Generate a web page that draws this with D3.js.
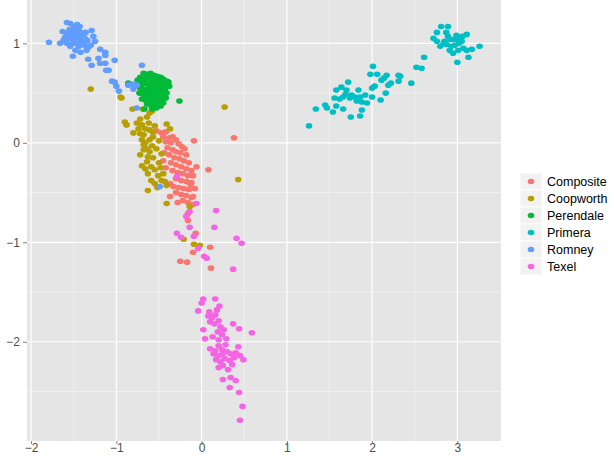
<!DOCTYPE html>
<html>
<head>
<meta charset="utf-8">
<script src="https://cdn.jsdelivr.net/npm/d3@7"></script>
<style>
  body { margin: 0; background: #fff; }
  svg { display: block; font-family: "Liberation Sans", Arial, sans-serif; }
</style>
</head>
<body>
<svg id="chart" width="614" height="456"></svg>
<script>
"use strict";

// breeds in legend order
const breeds = ["Composite", "Coopworth", "Perendale", "Primera", "Romney", "Texel"];
const colours = ["#F8766D", "#B79F00", "#00BA38", "#00BFC4", "#619CFF", "#F564E3"];
const xTicks = [-2, -1, 0, 1, 2, 3];
const yTicks = [-2, -1, 0, 1];
const xMinor = [-1.5, -0.5, 0.5, 1.5, 2.5];
const yMinor = [-2.5, -1.5, -0.5, 0.5];

// points, [x, y]
const composite = [[-0.53,0.12],[-0.47,0.10],[-0.42,0.11],[-0.45,0.06],[-0.38,0.05],[-0.34,0.06],[-0.30,0.03],[-0.36,0.00],[-0.42,0.01],[-0.27,-0.01],[-0.23,-0.04],[-0.20,-0.06],[-0.09,0.02],[0.38,0.05],[-0.40,-0.05],[-0.34,-0.07],[-0.30,-0.09],[-0.25,-0.10],[-0.18,-0.12],[-0.44,-0.10],[-0.38,-0.12],[-0.32,-0.15],[-0.26,-0.16],[-0.21,-0.18],[-0.15,-0.20],[-0.06,-0.24],[0.08,-0.27],[-0.36,-0.20],[-0.30,-0.22],[-0.24,-0.24],[-0.18,-0.26],[-0.12,-0.28],[-0.42,-0.25],[-0.34,-0.28],[-0.28,-0.30],[-0.22,-0.31],[-0.16,-0.33],[-0.10,-0.33],[-0.30,-0.36],[-0.24,-0.38],[-0.18,-0.39],[-0.12,-0.40],[-0.37,-0.41],[-0.33,-0.44],[-0.27,-0.45],[-0.21,-0.46],[-0.15,-0.47],[-0.08,-0.46],[-0.30,-0.50],[-0.24,-0.52],[-0.18,-0.53],[-0.12,-0.55],[-0.10,-0.54],[-0.37,-0.54],[-0.22,-0.58],[-0.16,-0.60],[-0.10,-0.62],[-0.28,-0.60],[-0.16,-0.71],[-0.16,-0.78],[-0.07,-0.91],[-0.10,-1.10],[0.10,-1.05],[-0.25,-1.19],[-0.17,-1.20],[0.11,-1.26],[-0.13,-0.42],[-0.45,-0.18]];

const coopworth = [[-1.30,0.54],[-0.95,0.46],[-0.94,0.45],[-0.81,0.34],[0.27,0.36],[-0.69,0.34],[-0.61,0.30],[-0.58,0.32],[-0.64,0.26],[-0.72,0.24],[-0.90,0.21],[-0.88,0.18],[-0.76,0.20],[-0.70,0.18],[-0.74,0.14],[-0.66,0.14],[-0.61,0.13],[-0.57,0.11],[-0.41,0.19],[-0.37,0.14],[-0.68,0.08],[-0.70,0.03],[-0.68,-0.02],[-0.61,0.03],[-0.57,0.06],[-0.64,-0.06],[-0.68,-0.07],[-0.61,-0.09],[-0.53,-0.06],[-0.47,-0.11],[-0.63,-0.14],[-0.64,-0.19],[-0.70,-0.23],[-0.66,-0.26],[-0.59,-0.24],[-0.55,-0.27],[-0.63,-0.31],[-0.51,-0.33],[-0.45,-0.31],[-0.59,-0.38],[-0.55,-0.41],[-0.43,-0.39],[-0.41,-0.43],[-0.63,-0.48],[-0.41,-0.61],[0.43,-0.37],[-0.14,-0.64],[-0.21,-0.97],[-0.09,-1.02],[-0.02,-1.03],[-0.80,0.10],[-0.72,0.09],[-0.62,0.20],[-0.55,0.17],[-0.50,0.02],[-0.57,-0.15],[-0.50,-0.20],[-0.72,-0.12],[-0.58,-0.03],[-0.52,-0.45],[-0.47,-0.38],[-0.48,-0.25],[-0.66,0.00]];

const perendale = [[-0.68,0.70],[-0.64,0.69],[-0.60,0.70],[-0.56,0.68],[-0.52,0.67],[-0.48,0.66],[-0.45,0.64],[-0.41,0.62],[-0.72,0.66],[-0.68,0.64],[-0.64,0.65],[-0.60,0.64],[-0.56,0.63],[-0.52,0.62],[-0.48,0.61],[-0.44,0.59],[-0.39,0.61],[-0.74,0.60],[-0.70,0.59],[-0.66,0.60],[-0.62,0.58],[-0.58,0.59],[-0.54,0.57],[-0.50,0.56],[-0.46,0.55],[-0.42,0.56],[-0.72,0.55],[-0.68,0.54],[-0.64,0.53],[-0.60,0.54],[-0.56,0.52],[-0.52,0.51],[-0.48,0.52],[-0.43,0.53],[-0.73,0.50],[-0.69,0.49],[-0.65,0.48],[-0.61,0.49],[-0.57,0.47],[-0.53,0.46],[-0.49,0.47],[-0.45,0.48],[-0.41,0.50],[-0.70,0.44],[-0.66,0.43],[-0.62,0.44],[-0.58,0.42],[-0.54,0.41],[-0.50,0.42],[-0.46,0.43],[-0.42,0.45],[-0.64,0.39],[-0.60,0.38],[-0.56,0.37],[-0.52,0.39],[-0.48,0.37],[-0.45,0.40],[-0.58,0.34],[-0.53,0.35],[-0.26,0.42],[-0.86,0.60],[-0.67,0.34],[-0.75,0.63],[-0.38,0.57]];

const primera = [[1.26,0.17],[1.34,0.34],[1.45,0.38],[1.47,0.35],[1.54,0.31],[1.58,0.37],[1.56,0.45],[1.58,0.53],[1.64,0.56],[1.66,0.46],[1.69,0.49],[1.72,0.61],[1.74,0.45],[1.76,0.48],[1.80,0.46],[1.84,0.53],[1.86,0.46],[1.82,0.42],[1.88,0.41],[1.94,0.40],[1.92,0.48],[1.88,0.33],[1.66,0.34],[1.75,0.26],[1.86,0.27],[2.00,0.46],[2.00,0.55],[2.03,0.57],[2.10,0.43],[2.16,0.50],[2.19,0.58],[2.22,0.60],[2.11,0.63],[2.14,0.65],[2.17,0.68],[2.06,0.69],[1.98,0.69],[2.01,0.77],[2.31,0.68],[2.33,0.67],[2.31,0.62],[2.46,0.60],[2.52,0.76],[2.58,0.75],[2.61,0.86],[1.70,0.53],[1.62,0.44],[2.81,1.17],[2.89,1.17],[2.76,1.11],[2.87,1.11],[2.89,1.07],[2.72,1.05],[2.76,1.02],[2.85,1.02],[2.92,1.04],[2.99,1.08],[3.01,1.05],[3.06,1.07],[3.11,1.09],[2.97,0.98],[3.02,1.00],[2.80,0.97],[2.87,0.99],[2.91,0.93],[2.95,0.90],[3.01,0.93],[3.07,0.95],[3.11,0.93],[3.17,0.94],[3.26,0.97],[3.13,0.86],[3.00,0.81],[2.93,0.97],[2.84,1.00],[3.05,1.02],[2.97,1.04]];

const romney = [[-1.79,1.01],[-1.66,1.00],[-1.58,1.21],[-1.54,1.20],[-1.50,1.17],[-1.46,1.19],[-1.43,1.17],[-1.63,1.12],[-1.58,1.10],[-1.55,1.14],[-1.52,1.13],[-1.48,1.10],[-1.45,1.14],[-1.43,1.12],[-1.39,1.08],[-1.36,1.11],[-1.60,1.06],[-1.56,1.05],[-1.53,1.08],[-1.50,1.03],[-1.47,1.06],[-1.45,1.07],[-1.42,1.02],[-1.40,1.04],[-1.37,1.05],[-1.34,1.03],[-1.62,1.03],[-1.58,1.00],[-1.54,0.97],[-1.51,1.00],[-1.47,1.00],[-1.44,0.97],[-1.40,0.99],[-1.37,0.98],[-1.33,0.96],[-1.29,1.13],[-1.27,1.07],[-1.25,1.02],[-1.30,0.98],[-1.48,0.93],[-1.42,0.91],[-1.35,0.93],[-1.51,0.87],[-1.19,0.94],[-1.13,0.91],[-1.13,0.88],[-1.33,0.84],[-1.21,0.85],[-1.29,0.78],[-1.19,0.80],[-1.13,0.80],[-1.12,0.73],[-1.09,0.73],[-1.02,0.83],[-1.05,0.62],[-1.02,0.61],[-1.00,0.57],[-0.97,0.52],[-0.86,0.58],[-0.81,0.59],[-0.80,0.54],[-0.76,0.58],[-0.70,0.78],[-0.76,0.35],[-0.49,-0.44]];

const texel = [[-0.29,-0.34],[-0.06,-0.61],[0.17,-0.68],[-0.14,-0.69],[-0.18,-0.74],[-0.14,-0.85],[0.15,-0.85],[-0.29,-0.91],[-0.24,-0.95],[-0.09,-0.94],[0.41,-0.96],[0.47,-1.01],[-0.04,-1.06],[0.03,-1.14],[0.06,-1.16],[0.37,-1.27],[0.02,-1.57],[0.16,-1.57],[0.00,-1.61],[0.21,-1.64],[-0.04,-1.69],[0.09,-1.70],[0.18,-1.68],[0.08,-1.74],[0.12,-1.76],[0.16,-1.73],[0.10,-1.80],[0.15,-1.82],[0.20,-1.79],[0.22,-1.85],[0.37,-1.82],[0.44,-1.87],[0.59,-1.91],[0.02,-1.88],[0.04,-1.97],[0.20,-1.98],[0.29,-1.97],[0.24,-1.93],[0.10,-2.07],[0.16,-2.09],[0.43,-2.05],[0.20,-2.04],[0.24,-2.08],[0.28,-2.03],[0.14,-2.12],[0.19,-2.14],[0.24,-2.13],[0.30,-2.10],[0.34,-2.12],[0.40,-2.11],[0.17,-2.18],[0.22,-2.20],[0.27,-2.17],[0.33,-2.19],[0.38,-2.16],[0.49,-2.18],[0.45,-2.14],[0.25,-2.24],[0.31,-2.28],[0.36,-2.23],[0.20,-2.26],[0.25,-2.38],[0.34,-2.36],[0.40,-2.39],[0.33,-2.46],[0.44,-2.51],[0.48,-2.65],[0.45,-2.79],[0.19,-1.90],[0.13,-1.95],[0.26,-1.88]];

const groups = [composite, coopworth, perendale, primera, romney, texel];

const svg = d3.select("#chart");

// panel box
const panel = { left: 27, top: 0, right: 501, bottom: 441 };

const x = d3.scaleLinear().domain([-2.048, 3.512]).range([panel.left, panel.right]);
const y = d3.scaleLinear().domain([-2.998, 1.436]).range([panel.bottom, panel.top]);
const colour = d3.scaleOrdinal().domain(breeds).range(colours);

svg.append("rect")
    .attr("x", panel.left)
    .attr("y", panel.top)
    .attr("width", panel.right - panel.left)
    .attr("height", panel.bottom - panel.top)
    .attr("fill", "#e5e5e5");

const grid = svg.append("g");
// minor grid
grid.selectAll(".vminor").data(xMinor).join("line")
    .attr("x1", d => x(d)).attr("x2", d => x(d))
    .attr("y1", panel.top).attr("y2", panel.bottom)
    .attr("stroke", "#f2f2f2").attr("stroke-width", 0.8);
grid.selectAll(".hminor").data(yMinor).join("line")
    .attr("y1", d => y(d)).attr("y2", d => y(d))
    .attr("x1", panel.left).attr("x2", panel.right)
    .attr("stroke", "#f2f2f2").attr("stroke-width", 0.8);

// major grid
grid.selectAll(".vmajor").data(xTicks).join("line")
    .attr("x1", d => x(d)).attr("x2", d => x(d))
    .attr("y1", panel.top).attr("y2", panel.bottom)
    .attr("stroke", "#fff").attr("stroke-width", 1.2);
grid.selectAll(".hmajor").data(yTicks).join("line")
    .attr("y1", d => y(d)).attr("y2", d => y(d))
    .attr("x1", panel.left).attr("x2", panel.right)
    .attr("stroke", "#fff").attr("stroke-width", 1.2);

// points, a little wider than tall like the reference
const pts = svg.append("g");
groups.forEach((g, i) => {
    pts.selectAll(null).data(g).join("ellipse")
        .attr("cx", d => x(d[0]))
        .attr("cy", d => y(d[1]))
        .attr("rx", 3.3)
        .attr("ry", 2.8)
        .attr("fill", colour(breeds[i]));
});

// axes
const fmt = d => d < 0 ? "\u2212" + Math.abs(d) : String(d);

const xAxis = svg.append("g")
    .attr("transform", `translate(0,${panel.bottom})`)
    .call(d3.axisBottom(x).tickValues(xTicks).tickSize(3).tickPadding(1).tickFormat(fmt));
const yAxis = svg.append("g")
    .attr("transform", `translate(${panel.left},0)`)
    .call(d3.axisLeft(y).tickValues(yTicks).tickSize(4).tickPadding(3).tickFormat(fmt));

[xAxis, yAxis].forEach(a => {
    a.select(".domain").remove();
    a.selectAll(".tick line").attr("stroke", "#7f7f7f");
    a.selectAll(".tick text")
        .attr("fill", "#4d4d4d")
        .style("font-size", "12px");
});
xAxis.selectAll(".tick text").attr("dy", "0.6em");

// legend
const legend = svg.append("g").attr("transform", "translate(520,173)");
const rowH = 17;
const rows = legend.selectAll("g").data(breeds).join("g")
    .attr("transform", (d, i) => `translate(0,${i * rowH})`);
rows.append("rect")
    .attr("width", 22).attr("height", rowH)
    .attr("fill", "#f2f2f2")
    .attr("stroke", "#fff").attr("stroke-width", 0.8);
rows.append("ellipse")
    .attr("cx", 11).attr("cy", rowH / 2)
    .attr("rx", 3.3).attr("ry", 2.8)
    .attr("fill", d => colour(d));
rows.append("text")
    .attr("x", 27).attr("y", rowH / 2)
    .attr("dy", "0.35em")
    .attr("fill", "#000")
    .style("font-size", "12.5px")
    .text(d => d);
</script>
</body>
</html>
